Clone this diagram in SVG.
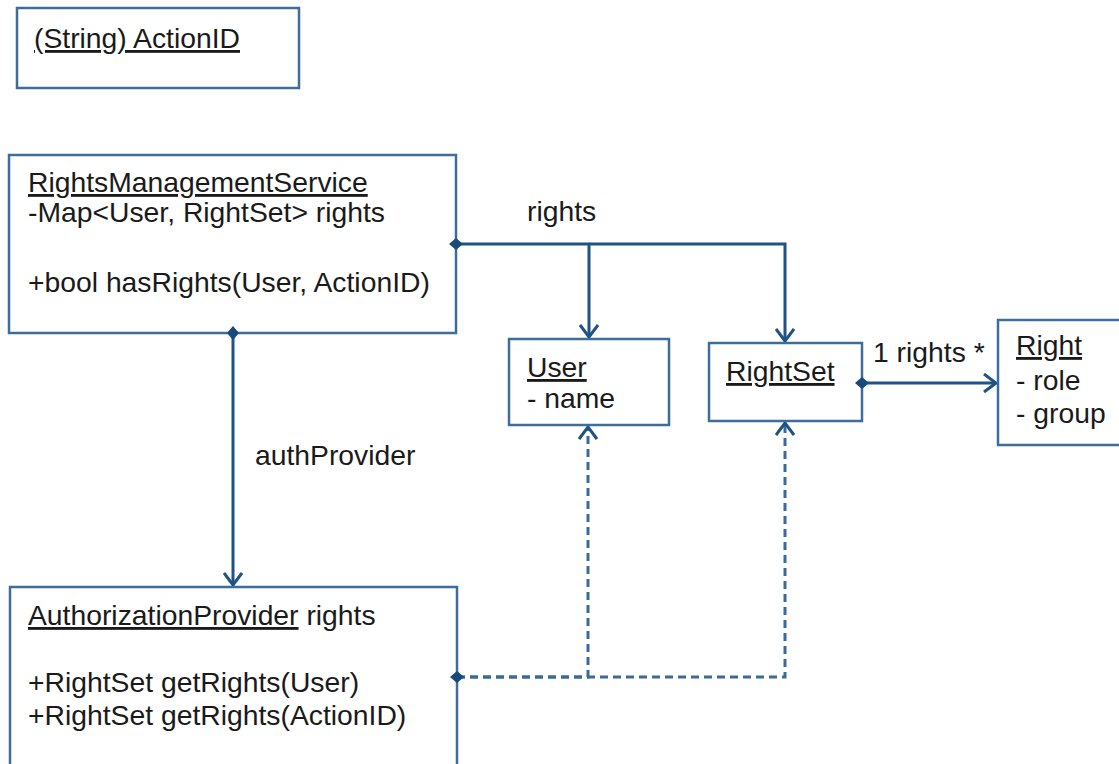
<svg xmlns="http://www.w3.org/2000/svg" width="1119" height="764" viewBox="0 0 1119 764">
<style>
.box{fill:#fff;stroke:#3d6d9c;stroke-width:2.5}
.t{font-family:"Liberation Sans",Arial,sans-serif;font-size:28.3px;fill:#1a1a1a}
.u{text-decoration:underline}
.ln{fill:none;stroke:#1f5286;stroke-width:3}
.dl{fill:none;stroke:#3a6a98;stroke-width:3;stroke-dasharray:8 5}
</style>
<defs>
<marker id="arr" viewBox="0 0 14 20" refX="13" refY="10" markerWidth="14" markerHeight="20" markerUnits="userSpaceOnUse" orient="auto">
<path d="M1,1 L13,10 L1,19" fill="none" stroke="#1f5286" stroke-width="3"/>
</marker>
</defs>
<rect width="1119" height="764" fill="#fff"/>
<g id="actionid">
<rect class="box" x="17" y="8" width="282" height="80"/>
<text class="t" x="34" y="48"><tspan class="u">(String) ActionID</tspan></text>
</g>
<g id="rms">
<rect class="box" x="9" y="155" width="447" height="178"/>
<text class="t" x="28" y="192"><tspan class="u">RightsManagementService</tspan></text>
<text class="t" x="28" y="222">-Map&lt;User, RightSet&gt; rights</text>
<text class="t" x="28" y="292">+bool hasRights(User, ActionID)</text>
</g>
<g id="user">
<rect class="box" x="509" y="339" width="160" height="86"/>
<text class="t" x="527" y="377"><tspan class="u">User</tspan></text>
<text class="t" x="527" y="408">- name</text>
</g>
<g id="rightset">
<rect class="box" x="709" y="343" width="153" height="78"/>
<text class="t" x="726" y="381"><tspan class="u">RightSet</tspan></text>
</g>
<g id="right">
<rect class="box" x="998" y="320" width="130" height="125"/>
<text class="t" x="1016" y="355"><tspan class="u">Right</tspan></text>
<text class="t" x="1016" y="390">- role</text>
<text class="t" x="1016" y="423">- group</text>
</g>
<g id="authprovider">
<rect class="box" x="10" y="587" width="447" height="190"/>
<text class="t" x="28" y="625"><tspan class="u">AuthorizationProvider</tspan> rights</text>
<text class="t" x="28" y="692">+RightSet getRights(User)</text>
<text class="t" x="28" y="725">+RightSet getRights(ActionID)</text>
</g>
<g id="connectors">
<path class="ln" d="M456,244 H589 V337" marker-end="url(#arr)"/>
<path class="ln" d="M589,244 H785 V341" marker-end="url(#arr)"/>
<path class="ln" d="M233,333 V585" marker-end="url(#arr)"/>
<path class="ln" d="M862,383 H996" marker-end="url(#arr)"/>
<path class="dl" d="M457,677 H588 V427" marker-end="url(#arr)"/>
<path class="dl" d="M457,677 H785 V423" marker-end="url(#arr)"/>
<path d="M449,244 L456,238 L463,244 L456,250 Z" fill="#1a4a7a"/>
<path d="M233,326 L239,333 L233,340 L227,333 Z" fill="#1a4a7a"/>
<path d="M855,383 L862,377 L869,383 L862,389 Z" fill="#1a4a7a"/>
<path d="M450,677 L457,671 L464,677 L457,683 Z" fill="#1a4a7a"/>
<text class="t" x="527" y="221">rights</text>
<text class="t" x="255" y="465">authProvider</text>
<text class="t" x="873" y="362">1 rights *</text>
</g>
</svg>
